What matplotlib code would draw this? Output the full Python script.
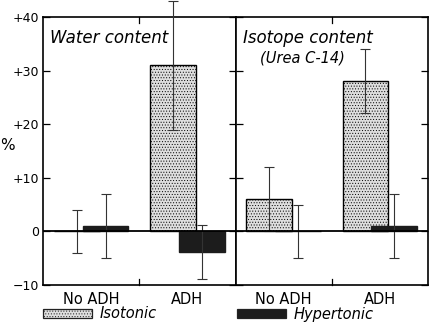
import matplotlib.pyplot as plt
import numpy as np
from matplotlib.patches import Rectangle

plt.rcParams.update({"font.family": "DejaVu Sans", "axes.linewidth": 1.2,
                     "hatch.color": "#9a9a9a", "hatch.linewidth": 0.4})

groups = ["No ADH", "ADH"]
panels = ["Water content", "Isotope content"]
subtitles = ["", "(Urea C-14)"]

# mean % change and error half-width, per panel, per group
iso_mean = [[0.0, 31.0], [6.0, 28.0]]
iso_err = [[4.0, 12.0], [6.0, 6.0]]
hyp_mean = [[1.0, -3.8], [0.0, 1.0]]
hyp_err = [[6.0, 5.0], [5.0, 6.0]]

yticks = [-10, 0, 10, 20, 30, 40]
ytick_labels = ["\u221210", "0", "+10", "+20", "+30", "+40"]

ISO = "#dedede"
HYP = "#1c1c1c"

fig = plt.figure(figsize=(4.3, 3.24), dpi=100)
left, right = 43 / 430, 428 / 430
bottom, top = 1 - 285 / 324, 1 - 17 / 324
mid = (left + right) / 2
axes = [fig.add_axes([left, bottom, mid - left, top - bottom]),
        fig.add_axes([mid, bottom, right - mid, top - bottom])]

centers = np.array([1.0, 3.0])
off, width = 0.3, 0.95

for k, ax in enumerate(axes):
    ax.bar(centers - off, iso_mean[k], width, color=ISO, edgecolor="black",
           linewidth=1.0, hatch="......", zorder=2)
    ax.bar(centers + off, hyp_mean[k], width, color=HYP, edgecolor=HYP,
           linewidth=1.0, zorder=3)
    ax.errorbar(centers - off, iso_mean[k], yerr=iso_err[k], fmt="none",
                ecolor="#333333", elinewidth=0.8, capsize=3.5, capthick=0.8,
                zorder=4, clip_on=False)
    ax.errorbar(centers + off, hyp_mean[k], yerr=hyp_err[k], fmt="none",
                ecolor="#333333", elinewidth=0.8, capsize=3.5, capthick=0.8,
                zorder=4, clip_on=False)
    ax.axhline(0, color="black", lw=1.3, zorder=5)
    ax.set_xlim(0, 4)
    ax.set_ylim(-10, 40)
    ax.set_yticks(yticks)
    ax.tick_params(axis="y", direction="in", length=5, width=0.9,
                   left=True, right=True, labelsize=9, pad=3)
    ax.set_xticks(centers)
    ax.set_xticklabels(groups, fontsize=10.5)
    ax.tick_params(axis="x", length=0, pad=5)
    # small centre marks on top and bottom spines
    ax.plot([2, 2], [40, 38.8], color="black", lw=0.9, clip_on=False)
    ax.plot([2, 2], [-10, -8.8], color="black", lw=0.9, clip_on=False)
    if k == 0:
        ax.set_yticklabels(ytick_labels)
    else:
        ax.set_yticklabels([])
    ax.text(0.15, 36.0, panels[k], fontsize=12, style="italic",
            va="center", ha="left")
    if subtitles[k]:
        ax.text(0.5, 32.4, subtitles[k], fontsize=10.5, style="italic",
                va="center", ha="left")

fig.text(7 / 430, 1 - 145 / 324, "%", fontsize=11, ha="center", va="center")

# legend drawn below the axes
for x0, color, hatch, label in [(43, ISO, "......", "Isotonic"),
                                (237, HYP, None, "Hypertonic")]:
    fig.patches.append(Rectangle((x0 / 430, 1 - 318 / 324), 49 / 430, 9 / 324,
                                 transform=fig.transFigure, facecolor=color,
                                 edgecolor="#222222", linewidth=0.9,
                                 hatch=hatch))
    fig.text((x0 + 57) / 430, 1 - 314 / 324, label, fontsize=10.5,
             style="italic", ha="left", va="center")

fig.savefig("out.png", dpi=100)
